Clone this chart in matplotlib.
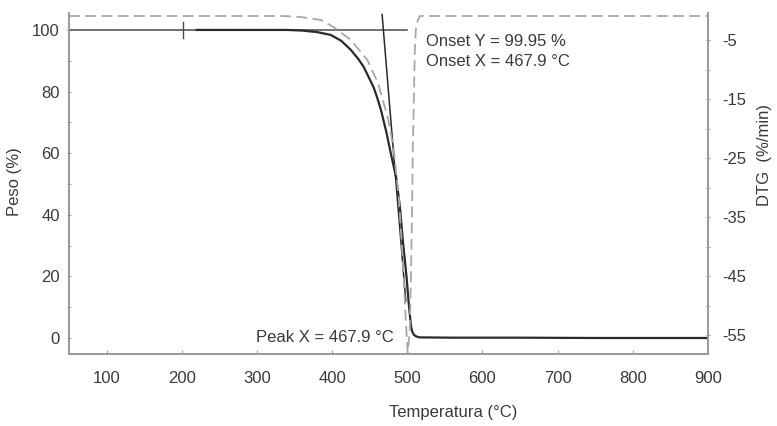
import matplotlib.pyplot as plt

plt.rcParams['font.family'] = ['Liberation Sans', 'DejaVu Sans']
plt.rcParams['axes.unicode_minus'] = False

# TG curve (weight %)
tg_temp = [220, 300, 340, 360, 380, 398, 412, 425, 435, 442, 450, 455, 460, 465, 472, 478, 485,
           490, 494, 499, 502, 505, 507, 509, 512, 516, 560, 650, 750, 850, 900]
tg_peso = [100, 100, 100, 99.8, 99.3, 98.4, 96.5, 93.5, 90.5, 88, 84, 81.5, 78, 74, 67, 60, 52.3,
           43, 31.8, 19.8, 11, 3.6, 1.8, 1.0, 0.5, 0.2, 0.1, 0.1, 0, 0, 0]

# DTG curve (%/min)
dtg_temp = [50, 200, 335, 358, 385, 402, 425, 447, 461, 474, 482, 489, 494, 498, 500.5,
            503.3, 504.7, 506, 507.3, 508.7, 510, 511.3, 514, 517, 700, 900]
dtg_val = [-0.93, -0.93, -0.93, -1.1, -1.6, -2.8, -5, -8.4, -12.3, -18.1, -23.6, -32.1, -42.3, -52.5, -58.0,
           -54.2, -45.7, -37.2, -23.6, -15.2, -6.7, -3.3, -1.6, -0.93, -0.93, -0.93]

# onset construction lines
onset_h_x = [50, 500]
onset_h_y = [100, 100]
tangent_x = [466.5, 498]
tangent_y = [105, 12]

x_ticks = [100, 200, 300, 400, 500, 600, 700, 800, 900]
y_ticks = [0, 20, 40, 60, 80, 100]
dtg_ticks = [-5, -15, -25, -35, -45, -55]

txt = '#3a3a3a'
spine = '#9a9a9a'

fig = plt.figure(figsize=(7.77, 4.26), dpi=100)
ax = fig.add_axes([0.0888, 0.169, 0.8224, 0.8005])
ax2 = ax.twinx()

ax.plot(onset_h_x, onset_h_y, color='#4a4a4a', lw=1.1)
ax.plot([202, 202], [97.5, 102.5], color='#4a4a4a', lw=1.0)
ax.plot(tg_temp, tg_peso, color='#2a2a2a', lw=1.6)
ax.plot(tangent_x, tangent_y, color='#2a2a2a', lw=1.1)
ax2.plot(dtg_temp, dtg_val, color='#a8a8a8', lw=1.3, ls=(0, (6, 3)))

ax.set_xlim(50, 900)
ax.set_ylim(-5.2, 105.5)
ax2.set_ylim(-58.2, -0.42)

ax.set_xticks(x_ticks)
ax.set_yticks(y_ticks)
ax.set_yticks(range(10, 100, 20), minor=True)
ax2.set_yticks(dtg_ticks)
ax2.set_yticks([-10, -20, -30, -40, -50], minor=True)

ax.tick_params(axis='x', direction='in', length=3, color=spine, labelsize=12, labelcolor=txt, pad=12)
ax.tick_params(axis='y', which='both', direction='inout', length=3, color=spine, labelsize=12, labelcolor=txt, pad=5)
ax2.tick_params(axis='y', which='both', direction='inout', length=3, color=spine, labelsize=12, labelcolor=txt, pad=9)

for a in (ax, ax2):
    a.spines['top'].set_visible(False)
    for s in ('left', 'right', 'bottom'):
        a.spines[s].set_color(spine)
        a.spines[s].set_linewidth(1.3)

ax.text(524.7, 96.1, 'Onset Y = 99.95 %', fontsize=12, color=txt, va='center', ha='left')
ax.text(524.7, 89.6, 'Onset X = 467.9 °C', fontsize=12, color=txt, va='center', ha='left')
ax.text(482, 0.3, 'Peak X = 467.9 °C', fontsize=12, color=txt, va='center', ha='right')

fig.text(15 / 777, 1 - 182 / 426, 'Peso (%)', rotation=90, fontsize=12, color=txt, ha='center', va='center')
fig.text(765 / 777, 1 - 155 / 426, 'DTG  (%/min)', rotation=90, fontsize=12, color=txt, ha='center', va='center')
fig.text(453 / 777, 1 - 412 / 426, 'Temperatura (°C)', fontsize=12, color=txt, ha='center', va='center')

fig.savefig('out.png', dpi=100)
